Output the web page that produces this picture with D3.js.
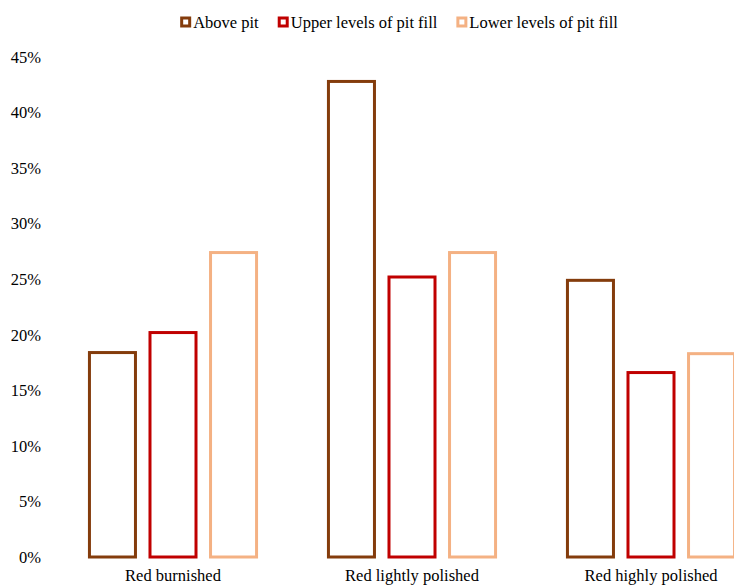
<!DOCTYPE html>
<html>
<head>
<meta charset="utf-8">
<script src="https://cdn.jsdelivr.net/npm/d3@7"></script>
<style>
  html, body { margin: 0; padding: 0; background: #fff; }
  svg { display: block; }
  text { font-family: "Liberation Serif", "Times New Roman", serif; fill: #000; }
</style>
</head>
<body>
<svg id="chart" width="734" height="586"></svg>
<script>
// Share of sherds by surface treatment and context
const categories = ["Red burnished", "Red lightly polished", "Red highly polished"];
const seriesNames = ["Above pit", "Upper levels of pit fill", "Lower levels of pit fill"];
const abovePit = [0.184, 0.428, 0.249];
const upperFill = [0.202, 0.252, 0.166];
const lowerFill = [0.274, 0.274, 0.183];
const yTicks = [0, 0.05, 0.10, 0.15, 0.20, 0.25, 0.30, 0.35, 0.40, 0.45];
const seriesColors = ["#843C0C", "#C00000", "#F4B183"];

const seriesValues = [abovePit, upperFill, lowerFill];
const rows = categories.map((c, i) => ({
  category: c,
  values: seriesNames.map((s, j) => ({ series: s, value: seriesValues[j][i] }))
}));

const fontSize = "16.5px";
const svg = d3.select("#chart");

const y = d3.scaleLinear().domain([0, 0.45]).range([557, 57]);

const x0 = d3.scaleBand()
  .domain(categories)
  .range([53.5, 770.5])
  .paddingInner(0.24)
  .paddingOuter(0.12);

const x1 = d3.scaleBand()
  .domain(seriesNames)
  .range([0, x0.bandwidth()])
  .paddingInner(0.24)
  .paddingOuter(0.12);

const color = d3.scaleOrdinal().domain(seriesNames).range(seriesColors);

// Y axis: labels only
const yAxis = svg.append("g")
  .attr("transform", "translate(41,0)")
  .call(d3.axisLeft(y).tickValues(yTicks).tickSize(0).tickPadding(0)
    .tickFormat(d3.format(".0%")));
yAxis.select(".domain").remove();
yAxis.selectAll("text")
  .style("font-family", '"Liberation Serif", "Times New Roman", serif')
  .style("font-size", fontSize)
  .attr("fill", "#000");

// Bars
const groups = svg.append("g")
  .selectAll("g")
  .data(rows)
  .join("g")
  .attr("transform", d => `translate(${x0(d.category)},0)`);

groups.selectAll("rect")
  .data(d => d.values)
  .join("rect")
  .attr("x", d => x1(d.series))
  .attr("width", x1.bandwidth())
  .attr("y", d => y(d.value))
  .attr("height", d => y(0) - y(d.value))
  .attr("fill", "#fff")
  .attr("stroke", d => color(d.series))
  .attr("stroke-width", 3);

// Category axis: labels only
const xAxis = svg.append("g")
  .attr("transform", "translate(0,569)")
  .call(d3.axisBottom(x0).tickSize(0).tickPadding(0));
xAxis.select(".domain").remove();
xAxis.selectAll("text")
  .style("font-family", '"Liberation Serif", "Times New Roman", serif')
  .style("font-size", fontSize)
  .attr("fill", "#000");

// Legend
const legend = svg.append("g").attr("transform", "translate(0,22)");
const items = legend.selectAll("g")
  .data(seriesNames)
  .join("g");
items.append("rect")
  .attr("x", 1.5).attr("y", -4)
  .attr("width", 8).attr("height", 8)
  .attr("fill", "#fff")
  .attr("stroke", d => color(d))
  .attr("stroke-width", 3);
items.append("text")
  .attr("x", 13)
  .attr("dy", "0.35em")
  .style("font-size", fontSize)
  .text(d => d);

let cursor = 0;
const widths = [];
items.each(function () {
  const w = 13 + this.querySelector("text").getComputedTextLength();
  widths.push(w);
});
const gap = 19;
const total = d3.sum(widths) + gap * (widths.length - 1);
cursor = 399 - total / 2;
items.attr("transform", (d, i) => {
  const t = `translate(${cursor},0)`;
  cursor += widths[i] + gap;
  return t;
});
</script>
</body>
</html>
